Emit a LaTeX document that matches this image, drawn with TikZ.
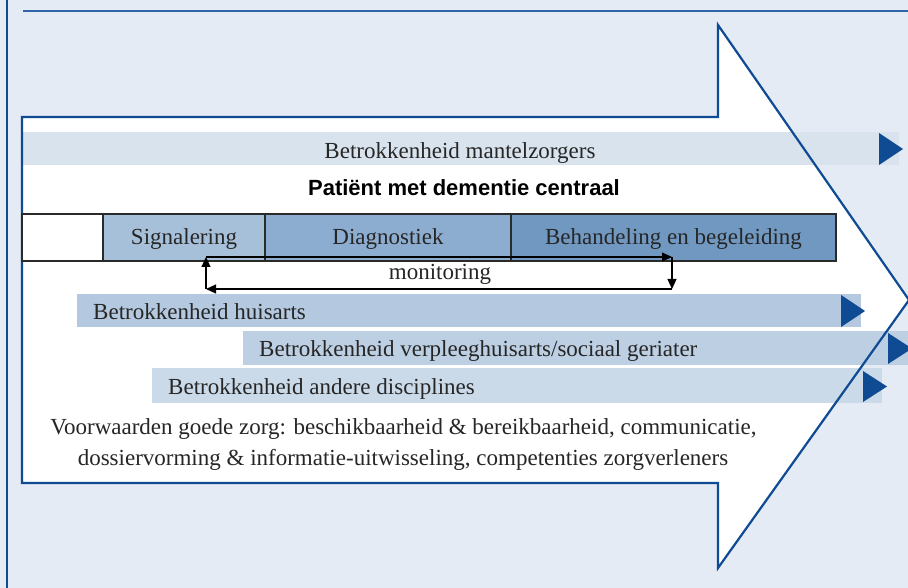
\documentclass[tikz,border=0pt]{standalone}
\usepackage{fontspec}
\setmainfont{Liberation Serif}
\newfontfamily\titlefont{Liberation Sans}
\usetikzlibrary{arrows.meta}
\definecolor{bg}{HTML}{E4EBF4}
\definecolor{dblue}{HTML}{0F4B92}
\definecolor{rule}{HTML}{2F65A6}
\definecolor{bandA}{HTML}{D9E3EE}
\definecolor{bandB}{HTML}{B4C8DF}
\definecolor{bandC}{HTML}{BDCFE3}
\definecolor{bandD}{HTML}{CBDAE9}
\definecolor{boxA}{HTML}{A7C0DA}
\definecolor{boxB}{HTML}{8DADD0}
\definecolor{boxC}{HTML}{7098C1}
\definecolor{boxline}{HTML}{2A2A2A}
\tikzset{
  txt/.style={inner sep=0pt, font=\fontsize{23}{26}\selectfont, text=black!85},
  phase/.style={draw=boxline, line width=1.4pt, inner sep=0pt, outer sep=0pt,
    minimum height=47pt, anchor=north west},
  tri/.style={fill=dblue},
  mon/.style={line width=1.2pt, -{Triangle[length=10pt,width=9pt]}},
}
\begin{document}
\begin{tikzpicture}[x=1pt,y=-1pt]
\fill[bg] (0,0) rectangle (908,588);
\useasboundingbox (0,0) rectangle (908,588);
% frame lines
\draw[dblue, line width=2pt] (7,0) -- (7,588);
\draw[rule, line width=1.6pt] (23,11) -- (908,11);
% big arrow fill
\fill[white] (22,117) -- (718,117) -- (718,25) -- (909,300) -- (718,568) -- (718,483) -- (22,483) -- cycle;
% bands
\fill[bandA] (22,132) rectangle (899,165);
\fill[tri] (879,133) -- (903,149) -- (879,165) -- cycle;
\fill[bandB] (77,294) rectangle (861,327);
\fill[tri] (841,295) -- (865,311) -- (841,327) -- cycle;
\fill[bandC] (243,331) rectangle (908,365);
\fill[tri] (888,333) -- (912,348.5) -- (888,364) -- cycle;
\fill[bandD] (152,368) rectangle (882,403);
\fill[tri] (863,371) -- (887,386.5) -- (863,402) -- cycle;
% arrow outline
\draw[dblue, line width=2.2pt, line join=miter] (22,117) -- (718,117) -- (718,25) -- (909,300) -- (718,568) -- (718,483) -- (22,483) -- cycle;
% texts of bands
\node[txt, anchor=mid] (mz) at (460,156) {Betrokkenheid mantelzorgers};
\node[inner sep=0pt, anchor=mid, text=black, font=\titlefont\bfseries\fontsize{22}{25}\selectfont] (title) at (464,193) {Patiënt met dementie centraal};
% phases
\node[phase, fill=white, minimum width=81pt] (p0) at (22,214) {};
\node[phase, fill=boxA, minimum width=162pt] (p1) at (103,214) {};
\node[phase, fill=boxB, minimum width=246pt] (p2) at (265,214) {};
\node[phase, fill=boxC, minimum width=325pt] (p3) at (511,214) {};
\node[txt, anchor=mid, yshift=-5pt] (t1) at (p1.center) {Signalering};
\node[txt, anchor=mid, yshift=-5pt] (t2) at (p2.center) {Diagnostiek};
\node[txt, anchor=mid, yshift=-5pt] (t3) at (p3.center) {Behandeling en begeleiding};
% monitoring loop
\coordinate (m1) at (206,257);
\coordinate (m2) at (672,257);
\coordinate (m3) at (672,289);
\coordinate (m4) at (206,289);
\draw[mon] (m4) -- (m1);
\draw[mon] (m1) -- (m2);
\draw[mon] (m2) -- (m3);
\draw[mon] (m3) -- (m4);
\node[txt, anchor=mid] (mon) at (440,277) {monitoring};
\node[txt, anchor=mid west] (ha) at (93,317) {Betrokkenheid huisarts};
\node[txt, anchor=mid west] (vh) at (259,354) {Betrokkenheid verpleeghuisarts/sociaal geriater};
\node[txt, anchor=mid west] (ad) at (168,392) {Betrokkenheid andere disciplines};
\node[txt, anchor=mid] (v1) at (403.5,432) {Voorwaarden goede zorg: beschikbaarheid \& bereikbaarheid, communicatie,};
\node[txt, anchor=mid] (v2) at (403,463) {dossiervorming \& informatie-uitwisseling, competenties zorgverleners};
\end{tikzpicture}
\end{document}
